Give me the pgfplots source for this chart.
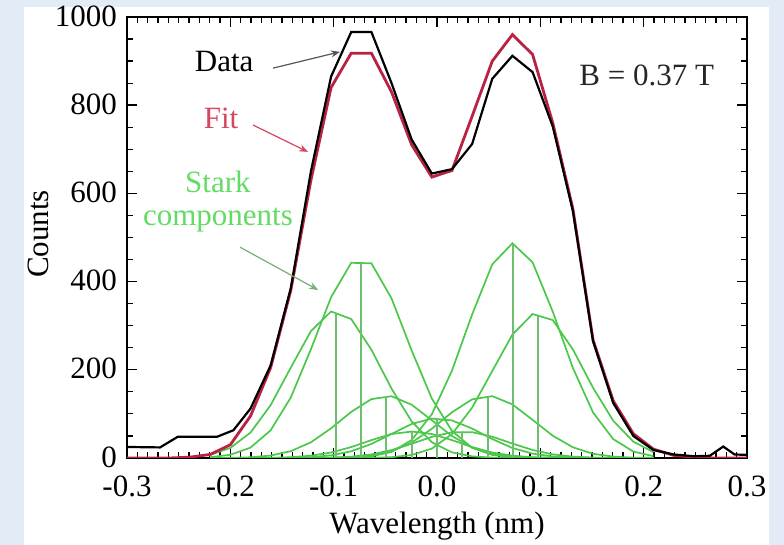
\documentclass[border=0pt]{standalone}
\usepackage{fontspec}
\setmainfont{Liberation Serif}
\usepackage{pgfplots}
\usepackage{pgfplotstable}
\pgfplotsset{compat=1.18}
\usetikzlibrary{arrows.meta}

\definecolor{panelbg}{RGB}{227,236,246}
\definecolor{fitred}{RGB}{185,35,65}
\definecolor{fitlabel}{RGB}{215,70,95}
\definecolor{starkgreen}{RGB}{75,200,75}
\definecolor{stemgreen}{RGB}{110,190,110}
\definecolor{starklabel}{RGB}{100,220,100}
\definecolor{arrowgray}{RGB}{85,85,85}
\definecolor{arrowgreen}{RGB}{120,175,120}

\newcommand\lbl{\fontsize{31bp}{37bp}\selectfont}

% Stark components (Gaussians on the spectrometer pixel grid)
\pgfplotstableread{
x        A      B      C      Km    Kz    Kp    E      F      G
-0.2195  7.4    1.8    0.1    0     0     0     0      0      0
-0.2     22.8   7.3    0.4    0     0     0     0      0      0
-0.1805  57.6   23.5   1.6    0.1   0     0     0      0      0
-0.161   119.8  62.7   5.5    0.5   0.1   0     0      0      0
-0.1415  204.9  137.2  15.5   1.7   0.5   0.1   0      0      0
-0.122   287.8  246.7  35.6   5.2   1.9   0.2   0.1    0      0
-0.1025  332.3  364.6  67.3   12.5  6.0   0.9   0.4    0.2    0
-0.083   315.1  442.6  104.6  24.8  15.2  3.0   1.6    0.9    0.1
-0.0635  245.6  441.5  133.5  40.5  31.8  8.1   5.4    3.8    0.4
-0.044   157.3  361.8  140.1  54.4  54.6  17.9  15.1   13.8   1.8
-0.0245  82.8   243.7  120.8  60.0  77.1  32.3  34.9   40.8   6.8
-0.005   35.8   134.9  85.5   54.4  89.4  47.9  66.4   99.2   21.3
0.0145   12.7   61.3   49.8   40.5  85.2  58.5  103.7  198.2  54.3
0.034    3.7    22.9   23.8   24.8  66.8  58.6  133.0  325.5  114.2
0.0535   0.9    7.0    9.3    12.5  43.0  48.3  140.3  439.2  197.3
0.073    0.2    1.8    3.0    5.2   22.7  32.7  121.5  487.0  280.0
0.0925   0      0.4    0.8    1.7   9.9   18.2  86.5   443.7  326.4
0.112    0      0.1    0.2    0.5   3.5   8.3   50.6   332.1  312.8
0.1315   0      0      0      0.1   1.0   3.1   24.3   204.3  246.2
0.151    0      0      0      0     0.3   1.0   9.6    103.2  159.3
0.1705   0      0      0      0     0.1   0.2   3.1    42.9   84.7
0.19     0      0      0      0     0     0     0.8    14.6   37.0
0.2095   0      0      0      0     0     0     0.2    4.1    13.3
}\stark

% Fitted profile
\pgfplotstableread{
x        y
-0.3     0
-0.2975  0
-0.278   0
-0.2585  0
-0.239   2
-0.2195  8
-0.2     30
-0.1805  95
-0.161   205
-0.1415  380
-0.122   630
-0.1025  840
-0.083   918
-0.0635  918
-0.044   830
-0.0245  710
-0.005   637
0.0145   652
0.034    775
0.0535   900
0.073    960
0.0925   915
0.112    760
0.1315   565
0.151    268
0.1705   130
0.19     55
0.2095   20
0.229    6
0.2485   2
0.268    0
0.2875   0
0.3      0
}\fitdata

% Measured spectrum
\pgfplotstableread{
x        y
-0.3     25
-0.268   24
-0.251   48
-0.213   48
-0.197   63
-0.1805  112
-0.161   210
-0.1415  385
-0.122   650
-0.1025  865
-0.083   966
-0.0635  966
-0.044   850
-0.0245  722
-0.005   645
0.0145   655
0.034    712
0.0535   860
0.073    912
0.0925   875
0.112    752
0.1315   560
0.151    265
0.1705   125
0.19     50
0.2095   18
0.229    8
0.2485   4
0.264    5
0.277    26
0.288    8
0.3      7
}\measured

\begin{document}
\begin{tikzpicture}
\useasboundingbox (0bp,0bp) rectangle (784bp,545bp);
\fill[panelbg] (0bp,0bp) rectangle (784bp,545bp);
\fill[white] (24bp,0bp) rectangle (769bp,538bp);
\begin{axis}[
  at={(127bp,87bp)}, anchor=south west,
  scale only axis, width=620bp, height=441bp,
  xmin=-0.3, xmax=0.3, ymin=0, ymax=1000,
  xtick={-0.3,-0.2,-0.1,0,0.1,0.2,0.3},
  xticklabels={-0.3,-0.2,-0.1,0.0,0.1,0.2,0.3},
  ytick={0,200,400,600,800,1000},
  yticklabels={0,200,400,600,800,1000},
  minor x tick num=9, minor y tick num=3,
  tick align=inside,
  major tick length=10bp, minor tick length=6bp,
  major tick style={black, line width=1.4bp},
  minor tick style={black, line width=1.2bp},
  axis line style={line width=2.2bp},
  ticklabel style={font=\lbl, inner sep=0pt},
  xticklabel style={yshift=-18bp},
  yticklabel style={xshift=-10bp, yshift=1bp},
  clip mode=individual,
]
% Stark components
\foreach \c in {A,B,C,Km,Kz,Kp,E,F,G} {
  \addplot[starkgreen, line width=1.7bp] table[x=x, y=\c] {\stark};
}
% Component positions
\addplot[stemgreen, line width=1.8bp] coordinates {(-0.098,0) (-0.098,328)};
\addplot[stemgreen, line width=1.8bp] coordinates {(-0.0735,0) (-0.0735,442)};
\addplot[stemgreen, line width=1.8bp] coordinates {(-0.049,0) (-0.049,138)};
\addplot[stemgreen, line width=1.8bp] coordinates {(-0.0245,0) (-0.0245,60)};
\addplot[stemgreen, line width=1.8bp] coordinates {(0,0) (0,88)};
\addplot[stemgreen, line width=1.8bp] coordinates {(0.0245,0) (0.0245,58)};
\addplot[stemgreen, line width=1.8bp] coordinates {(0.049,0) (0.049,139)};
\addplot[stemgreen, line width=1.8bp] coordinates {(0.0735,0) (0.0735,486)};
\addplot[stemgreen, line width=1.8bp] coordinates {(0.098,0) (0.098,323)};
% Fit and data
\addplot[fitred, line width=2.8bp] table[x=x, y=y] {\fitdata};
\addplot[black, line width=2.2bp] table[x=x, y=y] {\measured};
% Annotations
\node[font=\lbl, text=black] at (axis cs:-0.206,898) {Data};
\draw[arrowgray, line width=1.2bp, -{Stealth[length=9bp,width=7bp]}]
  (axis cs:-0.1587,884) -- (axis cs:-0.0939,921);
\node[font=\lbl, text=fitlabel] at (axis cs:-0.209,771) {Fit};
\draw[fitlabel, line width=1.2bp, -{Stealth[length=9bp,width=7bp]}]
  (axis cs:-0.178,755) -- (axis cs:-0.1248,694);
\node[font=\lbl, text=starklabel] at (axis cs:-0.212,626) {Stark};
\node[font=\lbl, text=starklabel] at (axis cs:-0.212,540) {components};
\draw[arrowgreen, line width=1.2bp, -{Stealth[length=9bp,width=7bp]}]
  (axis cs:-0.1906,478) -- (axis cs:-0.115,381);
\node[font=\lbl, text=black!85] at (axis cs:0.203,868) {B = 0.37 T};
\end{axis}
\node[font=\lbl, rotate=90, anchor=base] at (48bp,311bp) {Counts};
\node[font=\lbl, anchor=base] at (437bp,12bp) {Wavelength (nm)};
\end{tikzpicture}
\end{document}
